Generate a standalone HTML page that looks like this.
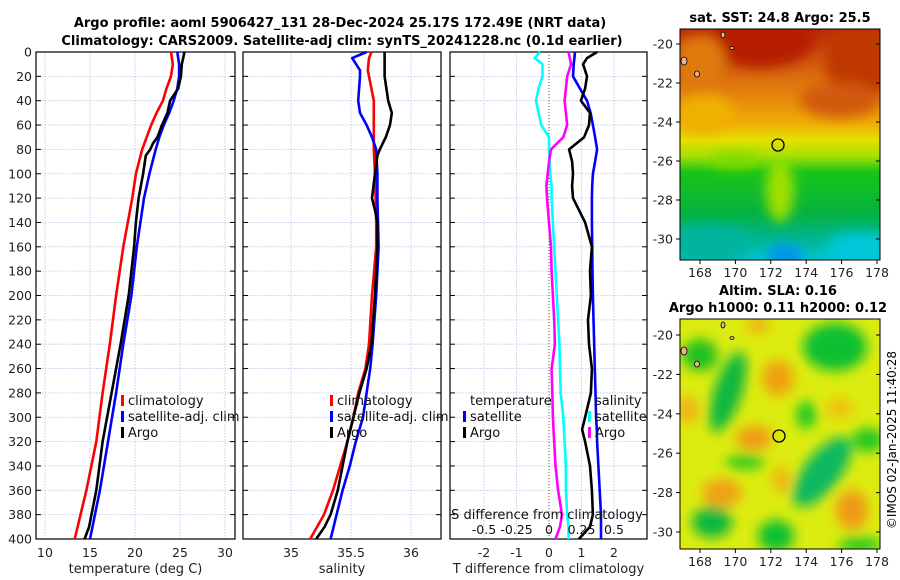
<!DOCTYPE html>
<html><head><meta charset="utf-8"><style>
html,body{margin:0;padding:0;background:#fff;}
svg{display:block;font-family:"DejaVu Sans","Liberation Sans",sans-serif;}
</style></head><body>
<svg id="fig" width="900" height="580" viewBox="0 0 900 580" xmlns="http://www.w3.org/2000/svg">
<defs>
<linearGradient id="sstGrad" x1="0" y1="0" x2="0" y2="1">
<stop offset="0" stop-color="#b82a06"/><stop offset="0.14" stop-color="#d25a0c"/>
<stop offset="0.28" stop-color="#e3820e"/><stop offset="0.4" stop-color="#f0aa06"/>
<stop offset="0.48" stop-color="#e6e000"/><stop offset="0.55" stop-color="#a6e000"/>
<stop offset="0.62" stop-color="#18c418"/><stop offset="0.8" stop-color="#04b240"/>
<stop offset="0.9" stop-color="#00b48c"/><stop offset="1" stop-color="#00c4d0"/>
</linearGradient>
<filter id="blur6" x="-20%" y="-20%" width="140%" height="140%"><feGaussianBlur stdDeviation="6"/></filter>
<clipPath id="clipTop"><rect x="680" y="29" width="200" height="231"/></clipPath>
<clipPath id="clipBot"><rect x="680" y="319" width="200" height="230"/></clipPath>
</defs>

<text x="340" y="27" text-anchor="middle" font-size="13" font-weight="bold">Argo profile: aoml 5906427_131 28-Dec-2024 25.17S 172.49E (NRT data)</text>
<text x="342" y="45" text-anchor="middle" font-size="13" font-weight="bold">Climatology: CARS2009. Satellite-adj clim: synTS_20241228.nc (0.1d earlier)</text>

<g id="p1"></g>
<g id="p2"></g>
<g id="p3"></g>

<g>
<text x="780" y="22" text-anchor="middle" font-size="13" font-weight="bold">sat. SST: 24.8 Argo: 25.5</text>
<g clip-path="url(#clipTop)">
<rect x="680" y="29" width="200" height="231" fill="url(#sstGrad)"/>
<g filter="url(#blur6)">
<ellipse cx="760" cy="40" rx="55" ry="28" fill="#b51c04"/>
<ellipse cx="860" cy="60" rx="35" ry="40" fill="#bf3806"/>
<ellipse cx="840" cy="100" rx="40" ry="18" fill="#d05a0c"/>
<ellipse cx="700" cy="60" rx="25" ry="25" fill="#e07a10"/>
<ellipse cx="705" cy="115" rx="30" ry="20" fill="#f0b000"/>
<ellipse cx="780" cy="190" rx="14" ry="32" fill="#9ee000"/>
<ellipse cx="735" cy="160" rx="25" ry="8" fill="#80dc00"/>
<ellipse cx="710" cy="245" rx="40" ry="20" fill="#00b4a0"/>
<ellipse cx="860" cy="250" rx="35" ry="18" fill="#00c8d8"/>
<ellipse cx="785" cy="255" rx="18" ry="10" fill="#0090f0"/>
</g>
</g>
<rect x="680" y="29" width="200" height="231" fill="none" stroke="#000" stroke-width="1"/>
<circle cx="778" cy="145" r="6" fill="none" stroke="#000" stroke-width="1.3"/>
<g id="sstAxis"></g>
</g>

<g>
<text x="778" y="295" text-anchor="middle" font-size="13" font-weight="bold">Altim. SLA: 0.16</text>
<text x="778" y="312" text-anchor="middle" font-size="13" font-weight="bold">Argo h1000: 0.11 h2000: 0.12</text>
<g clip-path="url(#clipBot)">
<rect x="680" y="319" width="200" height="230" fill="#dcec10"/>
<g filter="url(#blur6)">
<ellipse cx="835" cy="347" rx="32" ry="24" fill="#10c030"/>
<ellipse cx="728" cy="392" rx="14" ry="42" transform="rotate(18 728 392)" fill="#10b840"/>
<ellipse cx="700" cy="355" rx="18" ry="16" fill="#20c020"/>
<ellipse cx="806" cy="415" rx="10" ry="14" fill="#20c820"/>
<ellipse cx="868" cy="440" rx="16" ry="12" fill="#20c820"/>
<ellipse cx="822" cy="472" rx="18" ry="42" transform="rotate(38 822 472)" fill="#08b860"/>
<ellipse cx="712" cy="522" rx="20" ry="16" fill="#10b840"/>
<ellipse cx="776" cy="536" rx="18" ry="16" fill="#10c030"/>
<ellipse cx="745" cy="462" rx="20" ry="7" fill="#20c820"/>
<ellipse cx="860" cy="545" rx="22" ry="8" fill="#20c820"/>
<ellipse cx="778" cy="378" rx="16" ry="18" fill="#f0a010"/>
<ellipse cx="754" cy="438" rx="18" ry="12" fill="#f09818"/>
<ellipse cx="722" cy="493" rx="20" ry="14" fill="#f0a018"/>
<ellipse cx="852" cy="510" rx="16" ry="20" fill="#f09818"/>
<ellipse cx="781" cy="480" rx="8" ry="14" fill="#f0b010"/>
<ellipse cx="758" cy="325" rx="12" ry="8" fill="#f0b010"/>
<ellipse cx="688" cy="410" rx="10" ry="14" fill="#f0b018"/>
<ellipse cx="840" cy="408" rx="14" ry="10" fill="#f0c010"/>
</g>
</g>
<rect x="680" y="319" width="200" height="230" fill="none" stroke="#000" stroke-width="1"/>
<circle cx="779" cy="436" r="6" fill="none" stroke="#000" stroke-width="1.3"/>
<g id="slaAxis"></g>
</g>
<g fill="#f0b090" stroke="#000" stroke-width="0.8">
<ellipse cx="684" cy="61" rx="3" ry="4"/><ellipse cx="697" cy="74" rx="2.5" ry="3"/><ellipse cx="723" cy="35" rx="2" ry="3"/><ellipse cx="732" cy="48" rx="2" ry="1.5"/>
<ellipse cx="684" cy="351" rx="3" ry="4"/><ellipse cx="697" cy="364" rx="2.5" ry="3"/><ellipse cx="723" cy="325" rx="2" ry="3"/><ellipse cx="732" cy="338" rx="2" ry="1.5"/>
</g>
<text transform="translate(896 440) rotate(-90)" text-anchor="middle" font-size="12">©IMOS 02-Jan-2025 11:40:28</text>

<script>
const depths = [0,10,20,30,40,50,60,70,80,100,120,140,160,200,240,280,320,360,400];
const tempClim = [24.0,24.2,24.0,23.5,23.1,22.4,21.8,21.3,20.8,20.1,19.7,19.2,18.7,17.9,17.2,16.4,15.7,14.6,13.3];
const tempSat  = [24.7,24.9,24.9,24.7,24.3,23.8,23.2,22.7,22.3,21.6,21.0,20.6,20.2,19.6,18.7,17.9,17.0,16.1,15.0];
const argoDepths = [0,10,20,30,40,50,60,70,75,80,85,100,120,140,160,200,240,280,320,360,390,400];
const tempArgo = [25.5,25.2,25.1,24.8,23.9,23.6,23.0,22.5,22.0,21.7,21.2,20.9,20.4,20.1,19.9,19.3,18.4,17.4,16.4,15.7,14.9,14.4];
const salDepths = [0,5,15,20,40,50,60,70,80,100,120,140,160,200,240,260,280,300,320,340,360,380,400];
const salClim = [35.67,35.65,35.64,35.65,35.69,35.69,35.69,35.69,35.69,35.70,35.705,35.71,35.71,35.675,35.65,35.62,35.56,35.52,35.47,35.41,35.35,35.275,35.16];
const salSat  = [35.63,35.51,35.575,35.575,35.56,35.575,35.63,35.675,35.71,35.72,35.72,35.725,35.73,35.71,35.68,35.66,35.63,35.60,35.54,35.49,35.43,35.38,35.33];
const salArgoDepths = [0,20,40,50,60,70,80,85,100,120,130,140,160,200,240,260,280,300,320,340,360,380,390,400];
const salArgo = [35.78,35.78,35.81,35.84,35.825,35.79,35.74,35.72,35.70,35.675,35.70,35.72,35.72,35.70,35.67,35.63,35.57,35.52,35.47,35.43,35.39,35.33,35.28,35.21];
const diffDepths = [0,5,10,20,30,40,50,60,70,80,90,100,110,120,140,160,180,200,220,240,260,280,300,310,320,340,360,380,390,400];
const tDiffSat  = [0.80,0.78,0.76,0.74,0.95,1.17,1.28,1.35,1.42,1.48,1.42,1.35,1.33,1.32,1.32,1.33,1.34,1.35,1.37,1.39,1.41,1.43,1.45,1.47,1.48,1.52,1.56,1.60,1.60,1.60];
const tDiffArgo = [1.48,1.17,1.05,1.17,1.11,0.98,1.26,1.23,1.08,0.62,0.71,0.74,0.71,0.74,1.11,1.32,1.26,1.29,1.2,1.23,1.32,1.29,1.11,1.02,1.11,1.26,1.32,1.35,1.26,0.92];
const sDiffSat  = [-0.07,-0.11,-0.05,-0.05,-0.08,-0.10,-0.08,-0.06,0.0,0.0,0.005,0.01,0.02,0.02,0.03,0.04,0.05,0.06,0.07,0.08,0.085,0.09,0.11,0.115,0.12,0.13,0.13,0.14,0.15,0.15];
const sDiffArgo = [0.15,0.16,0.17,0.14,0.13,0.12,0.13,0.14,0.11,0.015,0.0,-0.01,-0.02,-0.015,0.0,0.015,0.02,0.03,0.04,0.045,0.02,0.025,0.03,0.035,0.04,0.05,0.07,0.10,0.085,0.05];
const depthTicks = [0,20,40,60,80,100,120,140,160,180,200,220,240,260,280,300,320,340,360,380,400];
const tempTicks = [10,15,20,25,30];
const salTicks = [35,35.5,36];
const tDiffTicks = [-2,-1,0,1,2];
const sDiffTicks = [-0.5,-0.25,0,0.25,0.5];
const lonTicks = [168,170,172,174,176,178];
const latTicks = [-20,-22,-24,-26,-28,-30];

const NS='http://www.w3.org/2000/svg';
const TOP=52, BOT=539;
const yD = d => TOP + d*(BOT-TOP)/400;
const xT = t => 45 + (t-10)*9;
const xS = s => 291 + (s-35)*120;
const xTd = v => 549 + v*32.5;
const xSd = v => 549 + v*130;

function el(parent, tag, attrs, text){
  const e=document.createElementNS(NS,tag);
  for(const k in attrs) e.setAttribute(k,attrs[k]);
  if(text!==undefined) e.textContent=text;
  parent.appendChild(e); return e;
}

function panel(g, x0, x1, xticks, xf, labelFmt, xtitle, showY){
  depthTicks.forEach(d=>{
    const l=el(g,'line',{x1:x0,x2:x1,y1:yD(d),y2:yD(d),stroke:'#b8c4e8','stroke-width':0.8,'stroke-dasharray':'1.5,1.5'});
    
    
    const tl=el(g,'line',{x1:x0,x2:x0+5,y1:yD(d),y2:yD(d),stroke:'#000'});
    
    
    const tr=el(g,'line',{x1:x1-5,x2:x1,y1:yD(d),y2:yD(d),stroke:'#000'});
    
    
    if(showY){
      const t=el(g,'text',{x:x0-4,y:yD(d)+4.5,'text-anchor':'end','font-size':12.5,fill:'#222'},String(d));
      
      
    }
  });
  xticks.forEach(v=>{
    const x=xf(v);
    const l=el(g,'line',{x1:x,x2:x,y1:TOP,y2:BOT,stroke:'#b8c4e8','stroke-width':0.8,'stroke-dasharray':'1.5,1.5'});
    
    
    const t=el(g,'text',{x:x,y:557,'text-anchor':'middle','font-size':12.5,fill:'#222'},labelFmt(v));
    
    
  });
  const fr=el(g,'rect',{x:x0,y:TOP,width:x1-x0,height:BOT-TOP,fill:'none',stroke:'#000','stroke-width':1.2});
  
  
  const xt=el(g,'text',{x:(x0+x1)/2,y:573,'text-anchor':'middle','font-size':13,fill:'#222'},xtitle);
  
  
}
function line(g, xs, ds, xf, color, name){
  const pts=xs.map((v,i)=>xf(v).toFixed(1)+','+yD(ds[i]).toFixed(1)).join(' ');
  const p=el(g,'polyline',{points:pts,fill:'none',stroke:color,'stroke-width':2.6,'stroke-linejoin':'round'});
  
  
}
function legend(g, x, y, items){
  items.forEach((it,i)=>{
    if(it[0]){
      const r=el(g,'rect',{x:x,y:y+i*16-10,width:3,height:11,fill:it[0]});
      
      
    }
    const t=el(g,'text',{x:x+7,y:y+i*16,'font-size':13,fill:'#111'},it[1]);
    
    
  });
}

const p1=document.getElementById('p1');
panel(p1,36,235,tempTicks,xT,v=>String(v),'temperature (deg C)',true);
line(p1,tempClim,depths,xT,'#ff0000','temp-climatology-line');
line(p1,tempSat,depths,xT,'#0000ff','temp-satellite-line');
line(p1,tempArgo,argoDepths,xT,'#000000','temp-argo-line');
legend(p1,121,405,[['#ff0000','climatology'],['#0000ff','satellite-adj. clim'],['#000','Argo']]);

const p2=document.getElementById('p2');
panel(p2,243,441,salTicks,xS,v=>String(v),'salinity',false);
line(p2,salClim,salDepths,xS,'#ff0000','sal-climatology-line');
line(p2,salSat,salDepths,xS,'#0000ff','sal-satellite-line');
line(p2,salArgo,salArgoDepths,xS,'#000000','sal-argo-line');
legend(p2,330,405,[['#ff0000','climatology'],['#0000ff','satellite-adj. clim'],['#000','Argo']]);

const p3=document.getElementById('p3');
panel(p3,450,647,tDiffTicks,xTd,v=>String(v),'T difference from climatology',false);
const zl=el(p3,'line',{x1:549,x2:549,y1:TOP,y2:BOT,stroke:'#556b2f','stroke-width':1,'stroke-dasharray':'1,2'});


line(p3,sDiffSat,diffDepths,xSd,'#00ffff','sdiff-satellite-line');
line(p3,sDiffArgo,diffDepths,xSd,'#ff00ff','sdiff-argo-line');
line(p3,tDiffSat,diffDepths,xTd,'#0000ff','tdiff-satellite-line');
line(p3,tDiffArgo,diffDepths,xTd,'#000000','tdiff-argo-line');
legend(p3,463,405,[[null,'temperature'],['#0000ff','satellite'],['#000','Argo']]);
legend(p3,588,405,[[null,'salinity'],['#00ffff','satellite'],['#ff00ff','Argo']]);
const st=el(p3,'text',{x:547,y:519,'text-anchor':'middle','font-size':13,fill:'#111'},'S difference from climatology');


sDiffTicks.forEach(v=>{
  const t=el(p3,'text',{x:xSd(v),y:534,'text-anchor':'middle','font-size':12.5,fill:'#111'},String(v));
  
  
});

const xLon = lon => 700 + (lon-168)*17.7;
function mapAxis(id, y0, y1, latY){
  const g=document.getElementById(id);
  lonTicks.forEach(l=>{
    const x=xLon(l);
    const a=el(g,'line',{x1:x,x2:x,y1:y1,y2:y1+4,stroke:'#000'});
    
    
    const t=el(g,'text',{x:x,y:y1+17,'text-anchor':'middle','font-size':12.5,fill:'#222'},String(l));
    
    
  });
  latTicks.forEach(l=>{
    const y=latY(l);
    const a=el(g,'line',{x1:676,x2:680,y1:y,y2:y,stroke:'#000'});
    
    
    const b=el(g,'line',{x1:876,x2:880,y1:y,y2:y,stroke:'#000'});
    
    
    const t=el(g,'text',{x:673,y:y+4.5,'text-anchor':'end','font-size':12.5,fill:'#222'},String(l));
    
    
  });
}
mapAxis('sstAxis',29,260,l=>44+(-20-l)*19.5);
mapAxis('slaAxis',319,549,l=>335+(-20-l)*19.7);
</script>
</svg>
</body></html>
